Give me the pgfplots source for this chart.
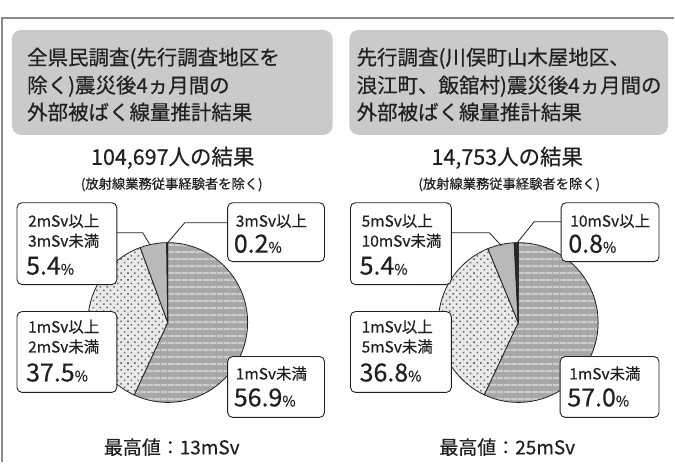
\documentclass[border=0pt]{standalone}
\usepackage{fontspec}
\setmainfont{Noto Sans CJK JP}[FakeBold=0.45,BoldFeatures={FakeBold=0.45}]
\newfontfamily\medfont{Noto Sans CJK JP}[FakeBold=0.45]
\usepackage{pgfplots}
\pgfplotsset{compat=1.18}
\usepackage{pgfplotstable}
\usetikzlibrary{patterns.meta}
\definecolor{txt}{HTML}{231F20}
\definecolor{titlegray}{HTML}{CACACA}
\definecolor{framegray}{HTML}{8A8A8A}
\definecolor{stripebase}{HTML}{A6A6A6}
\definecolor{stripe}{HTML}{CDCDCD}
\definecolor{dotbase}{HTML}{E9E9E9}
\definecolor{dotc}{HTML}{6A6A6A}
\definecolor{midgray}{HTML}{B9B9B9}
\definecolor{darkslice}{HTML}{2A2A2A}

\pgfplotstableread{
cls value
a 56.9
b 37.5
c 5.4
d 0.2
}\leftdata
\pgfplotstableread{
cls value
a 57.0
b 36.8
c 5.4
d 0.8
}\rightdata

\tikzset{
  s1/.style={fill=stripebase, postaction={pattern={Lines[angle=0,distance=6.5pt,line width=2.2pt]}, pattern color=stripe}},
  s2/.style={fill=dotbase, postaction={pattern={Dots[angle=45,distance=4.9pt,radius=1.1pt]}, pattern color=dotc}},
  s3/.style={fill=midgray},
  s4/.style={fill=darkslice},
  lbox/.style={draw=txt, line width=0.9pt, fill=white, rounded corners=5pt},
  lead/.style={draw=txt, line width=0.8pt},
}
\newcommand\slice[5]{%
  \fill[#5] (axis cs:#1,#2) -- ++(#3:80pt) arc[start angle=#3, end angle=#4, radius=80pt] -- cycle;
  \draw[txt, line width=0.8pt] (axis cs:#1,#2) -- ++(#3:80pt) arc[start angle=#3, end angle=#4, radius=80pt] -- cycle;
}
\newcommand\smallf{\medfont\fontsize{15.5}{15.5}\selectfont}
\newcommand\bigpct[1]{{\fontsize{25}{25}\selectfont #1}{\fontsize{14.5}{14.5}\selectfont\%}}

\begin{document}
\begin{tikzpicture}
\pgfplotstablegetelem{0}{value}\of\leftdata \pgfmathsetmacro\LA{90-3.6*\pgfplotsretval}
\pgfplotstablegetelem{1}{value}\of\leftdata \pgfmathsetmacro\LB{\LA-3.6*\pgfplotsretval}
\pgfplotstablegetelem{2}{value}\of\leftdata \pgfmathsetmacro\LC{\LB-3.6*\pgfplotsretval}
\pgfplotstablegetelem{3}{value}\of\leftdata \pgfmathsetmacro\LD{\LC-3.6*\pgfplotsretval}
\pgfplotstablegetelem{0}{value}\of\rightdata \pgfmathsetmacro\RA{90-3.6*\pgfplotsretval}
\pgfplotstablegetelem{1}{value}\of\rightdata \pgfmathsetmacro\RB{\RA-3.6*\pgfplotsretval}
\pgfplotstablegetelem{2}{value}\of\rightdata \pgfmathsetmacro\RC{\RB-3.6*\pgfplotsretval}
\pgfplotstablegetelem{3}{value}\of\rightdata \pgfmathsetmacro\RD{\RC-3.6*\pgfplotsretval}
\begin{axis}[
  x=1pt, y=1pt, xmin=0, xmax=675, ymin=0, ymax=463, y dir=reverse,
  hide axis, clip=false, disabledatascaling,
]
\path (axis cs:0,0) (axis cs:675,463);
% frame
\draw[framegray, line width=2pt] (axis cs:2,463) -- (axis cs:2,18) -- (axis cs:675,18);
% title boxes
\fill[titlegray, rounded corners=9pt] (axis cs:12,30) rectangle (axis cs:333,135);
\fill[titlegray, rounded corners=9pt] (axis cs:350,30) rectangle (axis cs:669,135);
\begin{scope}[every node/.style={anchor=base west, inner sep=0pt, text=txt, font=\medfont\fontsize{20.5}{20.5}\selectfont}]
\node at (axis cs:27,65) {全県民調査(先行調査地区を};
\node at (axis cs:27,93) {除く)震災後4ヵ月間の};
\node at (axis cs:27,120) {外部被ばく線量推計結果};
\node at (axis cs:357,65) {先行調査(川俣町山木屋地区、};
\node at (axis cs:357,93) {浪江町、飯舘村)震災後4ヵ月間の};
\node at (axis cs:357,120) {外部被ばく線量推計結果};
\end{scope}
% subtitles
\begin{scope}[every node/.style={anchor=base, inner sep=0pt, text=txt}]
\node[font=\medfont\fontsize{21.5}{21.5}\selectfont] at (axis cs:173,165) {104,697人の結果};
\node[font=\medfont\fontsize{13.3}{13.3}\selectfont] at (axis cs:172,189) {(放射線業務従事経験者を除く)};
\node[font=\medfont\fontsize{21.5}{21.5}\selectfont] at (axis cs:508,165) {14,753人の結果};
\node[font=\medfont\fontsize{13.3}{13.3}\selectfont] at (axis cs:510,189) {(放射線業務従事経験者を除く)};
\node[font=\medfont\fontsize{19}{19}\selectfont] at (axis cs:172,455) {最高値：13mSv};
\node[font=\medfont\fontsize{19}{19}\selectfont] at (axis cs:508,455) {最高値：25mSv};
\end{scope}
% left pie
\slice{168}{323}{90}{\LA}{s1}
\slice{168}{323}{\LA}{\LB}{s2}
\slice{168}{323}{\LB}{\LC}{s3}
\slice{168}{323}{\LC}{\LD}{s4}
% right pie
\slice{519}{323}{90}{\RA}{s1}
\slice{519}{323}{\RA}{\RB}{s2}
\slice{519}{323}{\RB}{\RC}{s3}
\slice{519}{323}{\RC}{\RD}{s4}
% leader lines
\draw[lead] (axis cs:117,233) -- (axis cs:143,233) -- (axis cs:150,245);
\draw[lead] (axis cs:228,223) -- (axis cs:185,223) -- (axis cs:168,243);
\draw[lead] (axis cs:452,233) -- (axis cs:490,233) -- (axis cs:502,246);
\draw[lead] (axis cs:562,222) -- (axis cs:535,222) -- (axis cs:518,243);
% label boxes
\draw[lbox] (axis cs:17,203) rectangle (axis cs:117,285);
\draw[lbox] (axis cs:228,203) rectangle (axis cs:325,262);
\draw[lbox] (axis cs:17,312) rectangle (axis cs:117,393);
\draw[lbox] (axis cs:228,357) rectangle (axis cs:325,418);
\draw[lbox] (axis cs:351,203) rectangle (axis cs:452,285);
\draw[lbox] (axis cs:562,203) rectangle (axis cs:660,262);
\draw[lbox] (axis cs:351,312) rectangle (axis cs:452,393);
\draw[lbox] (axis cs:561,357) rectangle (axis cs:660,418);
\begin{scope}[every node/.style={anchor=base west, inner sep=0pt, text=txt, font=\smallf}]
\node at (axis cs:28,227) {2mSv以上};
\node at (axis cs:28,247) {3mSv未満};
\node at (axis cs:26,275) {\bigpct{5.4}};
\node at (axis cs:236,227) {3mSv以上};
\node at (axis cs:234,253) {\bigpct{0.2}};
\node at (axis cs:28,333) {1mSv以上};
\node at (axis cs:28,353) {2mSv未満};
\node at (axis cs:26,382) {\bigpct{37.5}};
\node at (axis cs:236,380) {1mSv未満};
\node at (axis cs:234,407) {\bigpct{56.9}};
\node at (axis cs:362,227) {5mSv以上};
\node at (axis cs:362,247) {10mSv未満};
\node at (axis cs:360,275) {\bigpct{5.4}};
\node at (axis cs:571,227) {10mSv以上};
\node at (axis cs:569,253) {\bigpct{0.8}};
\node at (axis cs:362,333) {1mSv以上};
\node at (axis cs:362,353) {5mSv未満};
\node at (axis cs:360,382) {\bigpct{36.8}};
\node at (axis cs:570,380) {1mSv未満};
\node at (axis cs:568,407) {\bigpct{57.0}};
\end{scope}
\end{axis}
\end{tikzpicture}
\end{document}
